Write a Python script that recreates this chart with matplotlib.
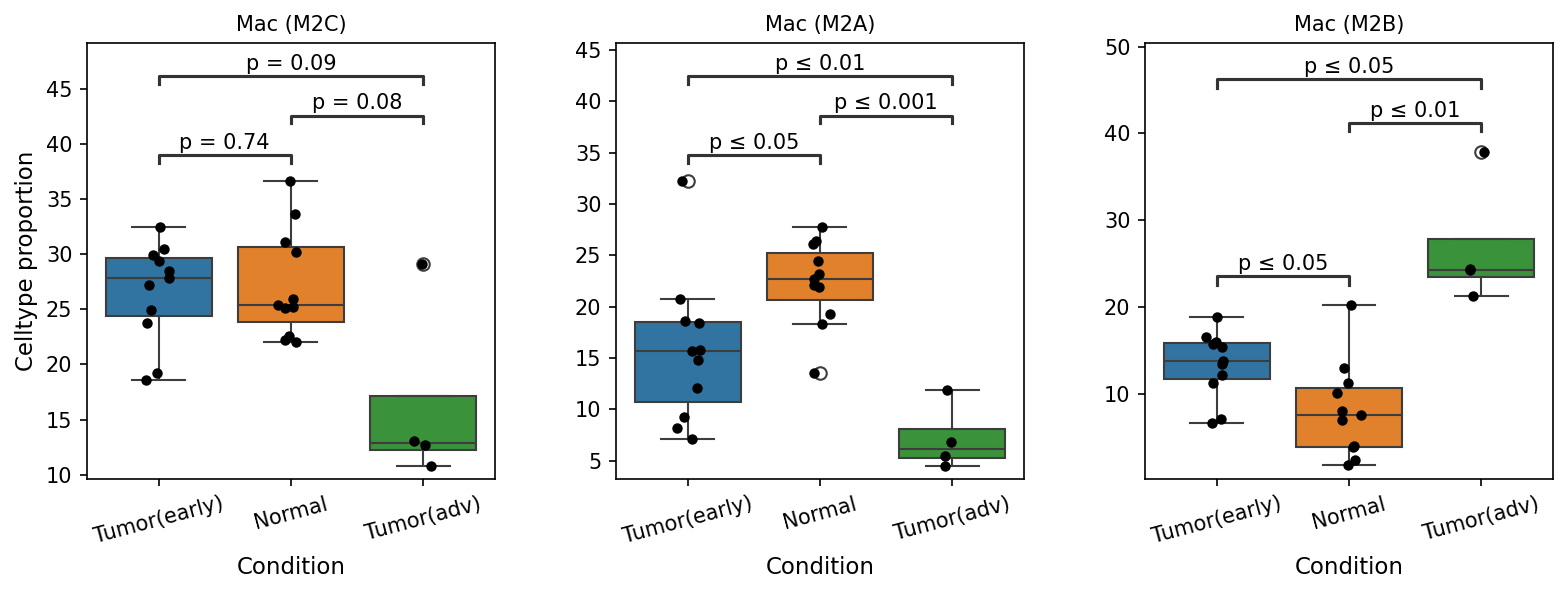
import numpy as np
import pandas as pd
import matplotlib
matplotlib.use('Agg')
import matplotlib.pyplot as plt
import seaborn as sns

conditions = ['Tumor(early)', 'Normal', 'Tumor(adv)']
celltypes = ['Mac (M2C)', 'Mac (M2A)', 'Mac (M2B)']

# values, one list per condition
m2c_early = [32.5, 30.5, 29.9, 29.4, 28.5, 27.8, 27.2, 24.9, 23.8, 19.2, 18.6]
m2c_normal = [36.6, 33.6, 31.1, 30.2, 25.9, 25.4, 25.2, 25.1, 22.6, 22.2, 22.0]
m2c_adv = [29.1, 13.1, 12.7, 10.8]

m2a_early = [32.2, 20.7, 18.6, 18.4, 15.8, 15.7, 14.8, 12.1, 9.3, 8.2, 7.1]
m2a_normal = [27.8, 26.4, 26.1, 24.4, 23.2, 22.7, 22.1, 21.9, 19.3, 18.3, 13.5]
m2a_adv = [11.9, 6.8, 5.5, 4.5]

m2b_early = [18.8, 16.5, 15.9, 15.7, 15.4, 13.8, 13.4, 12.1, 11.2, 7.1, 6.6]
m2b_normal = [20.2, 12.9, 11.2, 10.1, 8.0, 7.5, 7.0, 3.9, 3.8, 2.3, 1.8]
m2b_adv = [37.9, 24.4, 24.2, 21.2]

# comparisons (index into conditions) and their labels
pairs = [(0, 1), (1, 2), (0, 2)]
m2c_pvals = ['p = 0.74', 'p = 0.08', 'p = 0.09']
m2a_pvals = ['p \u2264 0.05', 'p \u2264 0.001', 'p \u2264 0.01']
m2b_pvals = ['p \u2264 0.05', 'p \u2264 0.01', 'p \u2264 0.05']

all_groups = [[m2c_early, m2c_normal, m2c_adv],
              [m2a_early, m2a_normal, m2a_adv],
              [m2b_early, m2b_normal, m2b_adv]]
all_pvals = [m2c_pvals, m2a_pvals, m2b_pvals]

palette = sns.color_palette()[:3]

fig, axes = plt.subplots(1, 3, figsize=(1568/150, 594/150), dpi=150)
fig.subplots_adjust(left=0.0555, right=0.9904, bottom=0.1936, top=0.9276, wspace=0.297)

np.random.seed(3)
for n, (ax, name, groups, pvals) in enumerate(zip(axes, celltypes, all_groups, all_pvals)):
    df = pd.DataFrame({
        'Condition': np.repeat(conditions, [len(g) for g in groups]),
        'value': np.concatenate(groups),
    })
    sns.boxplot(data=df, x='Condition', y='value', hue='Condition', order=conditions,
                hue_order=conditions, palette=palette, legend=False, ax=ax)
    sns.stripplot(data=df, x='Condition', y='value', order=conditions, color='black',
                  size=5, jitter=True, ax=ax, zorder=5)

    # significance brackets, stacked above the data
    lo = df['value'].min()
    hi = df['value'].max()
    R = hi - lo
    h = 0.027 * R
    tops = []
    for (i, j), txt in zip(pairs, pvals):
        base = max(max(groups[k]) for k in range(i, j + 1)) + 0.065 * R
        for (a, b), t in tops:
            if a <= j and i <= b:
                base = max(base, t + 0.112 * R)
        ax.plot([i, i, j, j], [base, base + h, base + h, base], lw=1.5, c='0.2')
        ax.annotate(txt, xy=((i + j) / 2, base + h), xytext=(0, 1), textcoords='offset points',
                    ha='center', va='bottom', fontsize=10)
        tops.append(((i, j), base + h))
    ax.set_ylim(lo - 0.046 * R, max(t for _, t in tops) + 0.116 * R)

    ax.set_title(name, fontsize=10)
    ax.set_xlabel('Condition', fontsize=11)
    if n == 0:
        ax.set_ylabel('Celltype proportion', fontsize=11)
    else:
        ax.set_ylabel('')
    ax.tick_params(axis='x', rotation=15)

plt.savefig('out.png', dpi=150)
